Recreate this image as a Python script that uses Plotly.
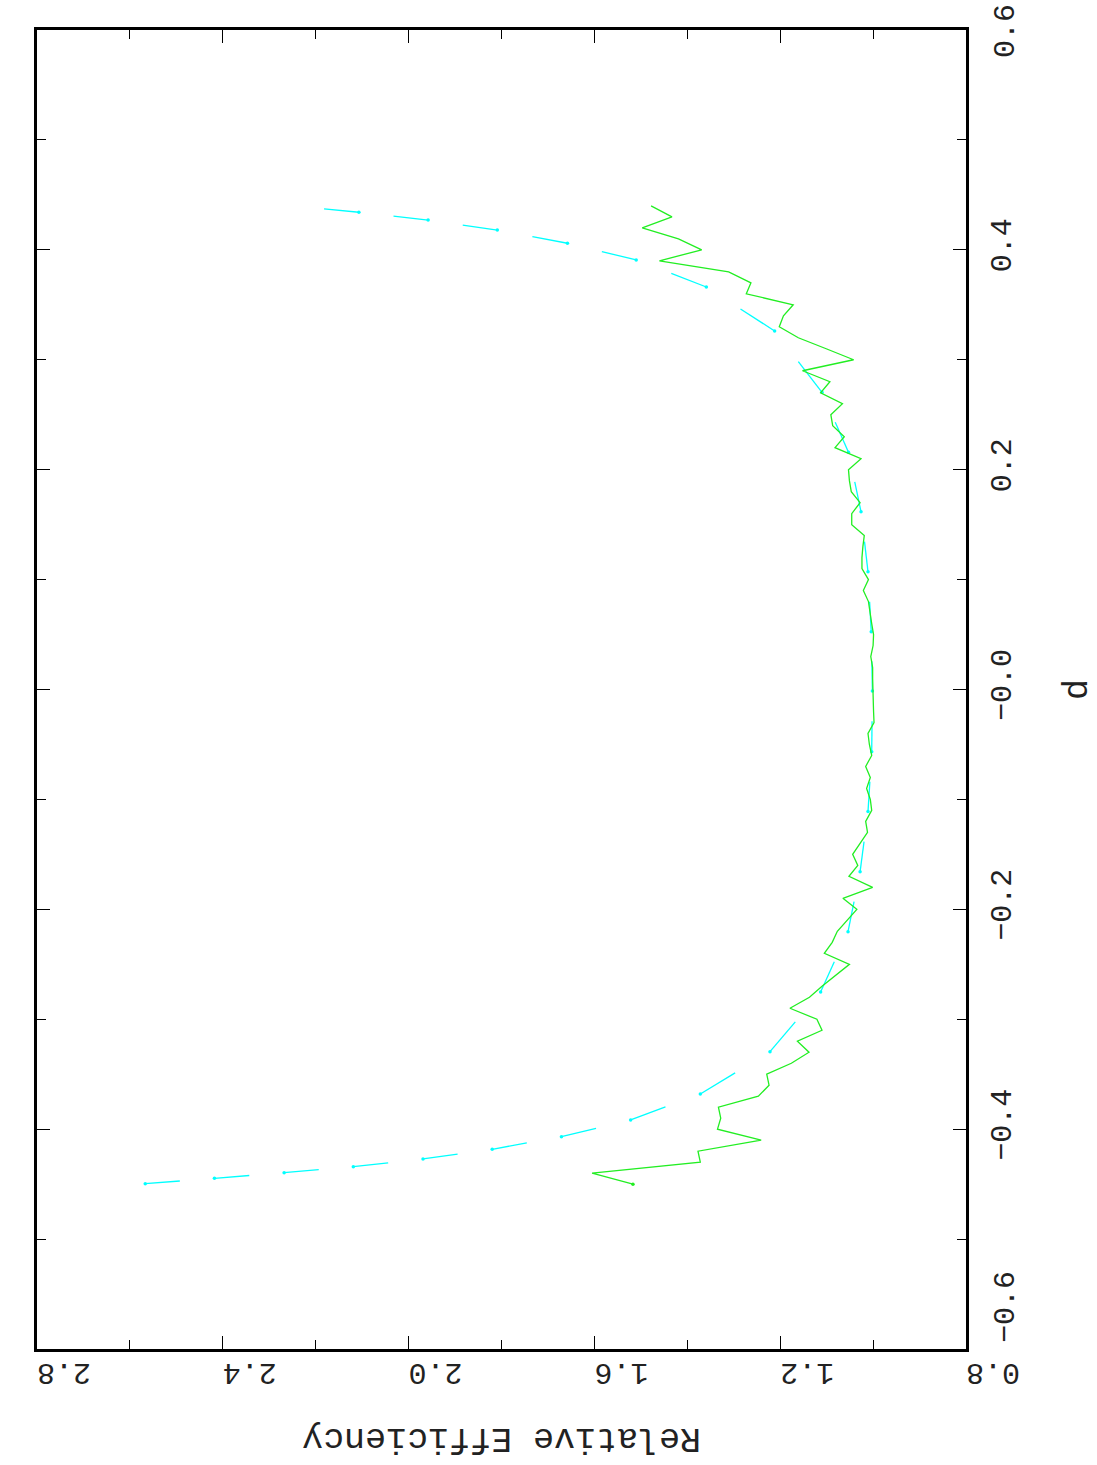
import plotly.graph_objects as go

# ---- data ----
green_d = [-0.45, -0.44, -0.43, -0.42, -0.41, -0.40, -0.39, -0.38, -0.37, -0.36,
           -0.35, -0.34, -0.33, -0.32, -0.31, -0.30, -0.29, -0.28, -0.27, -0.26,
           -0.25, -0.24, -0.23, -0.22, -0.21, -0.20, -0.19, -0.18, -0.17, -0.16,
           -0.15, -0.14, -0.13, -0.12, -0.11, -0.10, -0.09, -0.08, -0.07, -0.06,
           -0.05, -0.04, -0.03, -0.02, -0.01, 0.00, 0.01, 0.02, 0.03, 0.04,
           0.05, 0.06, 0.07, 0.08, 0.09, 0.10, 0.11, 0.12, 0.13, 0.14,
           0.15, 0.16, 0.17, 0.18, 0.19, 0.20, 0.21, 0.22, 0.23, 0.24,
           0.25, 0.26, 0.27, 0.28, 0.29, 0.30, 0.31, 0.32, 0.33, 0.34,
           0.35, 0.36, 0.37, 0.38, 0.39, 0.40, 0.41, 0.42, 0.43, 0.44]
green_eff = [1.517, 1.605, 1.372, 1.377, 1.241, 1.335, 1.328, 1.333, 1.247, 1.224,
             1.229, 1.176, 1.138, 1.163, 1.110, 1.121, 1.179, 1.137, 1.110, 1.080,
             1.051, 1.105, 1.088, 1.077, 1.056, 1.035, 1.065, 1.001, 1.052, 1.033,
             1.044, 1.028, 1.012, 1.016, 1.003, 1.006, 1.014, 1.006, 1.016, 1.003,
             1.008, 1.011, 0.998, 0.999, 1.000, 1.001, 1.001, 1.001, 1.005, 1.000,
             0.999, 1.003, 1.006, 1.010, 1.021, 1.010, 1.024, 1.024, 1.022, 1.019,
             1.046, 1.046, 1.028, 1.047, 1.051, 1.053, 1.026, 1.082, 1.062, 1.087,
             1.091, 1.066, 1.113, 1.093, 1.152, 1.042, 1.101, 1.161, 1.202, 1.193,
             1.172, 1.273, 1.263, 1.311, 1.460, 1.369, 1.419, 1.497, 1.433, 1.478]

cyan_d = [-0.4496, -0.4447, -0.4396, -0.4341, -0.4271, -0.4183, -0.4068, -0.3916,
          -0.3680, -0.3295, -0.2752, -0.2203, -0.1657, -0.1111, -0.0566, -0.0013,
          0.0526, 0.1072, 0.1618, 0.2158, 0.2704, 0.3262, 0.3662, 0.3908,
          0.4060, 0.4180, 0.4271, 0.4342, 0.4402]
cyan_eff = [2.567, 2.418, 2.268, 2.119, 1.969, 1.820, 1.671, 1.522,
            1.372, 1.222, 1.113, 1.054, 1.028, 1.011, 1.003, 1.0015,
            1.004, 1.011, 1.026, 1.053, 1.110, 1.212, 1.359, 1.510,
            1.658, 1.809, 1.958, 2.107, 2.257]

x_tickvals = [0.8, 1.2, 1.6, 2.0, 2.4, 2.8]
x_ticktext = ["0.8", "1.2", "1.6", "2.0", "2.4", "2.8"]
y_tickvals = [-0.6, -0.4, -0.2, 0.0, 0.2, 0.4, 0.6]
y_ticktext = ["", "\u22120.4", "\u22120.2", "\u22120.0", "0.2", "0.4", ""]
y_bottom_label = "\u22120.6"
y_top_label = "0.6"

GREEN = "#22ee22"
CYAN = "#00ffff"
FONT = dict(family="Liberation Mono", size=30, color="#222222")
TITLE_FONT = dict(family="Liberation Mono", size=35, color="#222222")

# cyan dashed curve: each dash runs from a point halfway to the next one
seg_x, seg_y = [], []
for i in range(len(cyan_eff) - 1):
    seg_x += [cyan_eff[i], (cyan_eff[i] + cyan_eff[i + 1]) / 2, None]
    seg_y += [cyan_d[i], (cyan_d[i] + cyan_d[i + 1]) / 2, None]

fig = go.Figure()
fig.add_trace(go.Scatter(x=seg_x, y=seg_y, mode="lines",
                         line=dict(color=CYAN, width=1.3), hoverinfo="skip"))
fig.add_trace(go.Scatter(x=cyan_eff[:-1], y=cyan_d[:-1], mode="markers",
                         marker=dict(color=CYAN, size=3.5)))
fig.add_trace(go.Scatter(x=green_eff, y=green_d, mode="lines",
                         line=dict(color=GREEN, width=1.3)))
fig.add_trace(go.Scatter(x=green_eff[:1], y=green_d[:1], mode="markers",
                         marker=dict(color=GREEN, size=3.5)))

fig.update_layout(
    width=1097, height=1465,
    margin=dict(l=37, r=131, t=30, b=116),
    paper_bgcolor="white", plot_bgcolor="white",
    showlegend=False,
    font=FONT,
    xaxis=dict(range=[2.8, 0.8], showgrid=False, zeroline=False, automargin=False,
               showline=True, linecolor="black", linewidth=3, mirror="ticks",
               ticks="inside", ticklen=13, tickwidth=1.2, tickcolor="black",
               tickvals=x_tickvals, ticktext=x_ticktext, tickangle=180,
               tickfont=FONT, ticklabelstandoff=6, ticklabeloverflow="allow",
               minor=dict(ticks="inside", ticklen=9, tickwidth=1.2, tickcolor="black",
                          dtick=0.2, tick0=0.8, showgrid=False)),
    yaxis=dict(range=[-0.6, 0.6], side="right", showgrid=False, zeroline=False,
               automargin=False,
               showline=True, linecolor="black", linewidth=3, mirror="ticks",
               ticks="inside", ticklen=13, tickwidth=1.2, tickcolor="black",
               tickvals=y_tickvals, ticktext=y_ticktext, tickangle=-90,
               tickfont=FONT, ticklabelstandoff=6, ticklabeloverflow="allow",
               minor=dict(ticks="inside", ticklen=9, tickwidth=1.2, tickcolor="black",
                          dtick=0.1, tick0=0.0, showgrid=False)),
    annotations=[
        dict(text="Relative Efficiency", x=0.5, y=-0.067, xref="paper", yref="paper",
             showarrow=False, textangle=180, font=TITLE_FONT,
             xanchor="center", yanchor="middle"),
        dict(text="d", x=1.12, y=0.5, xref="paper", yref="paper",
             showarrow=False, textangle=-90, font=TITLE_FONT,
             xanchor="center", yanchor="middle"),
        dict(text=y_bottom_label, x=1.0, xshift=40, y=-0.6, yref="y", xref="paper",
             yshift=42, showarrow=False, textangle=-90, font=FONT,
             xanchor="center", yanchor="middle"),
        dict(text=y_top_label, x=1.0, xshift=40, y=0.6, yref="y", xref="paper",
             yshift=-1, showarrow=False, textangle=-90, font=FONT,
             xanchor="center", yanchor="middle"),
    ],
)

fig.write_html("out.html")
